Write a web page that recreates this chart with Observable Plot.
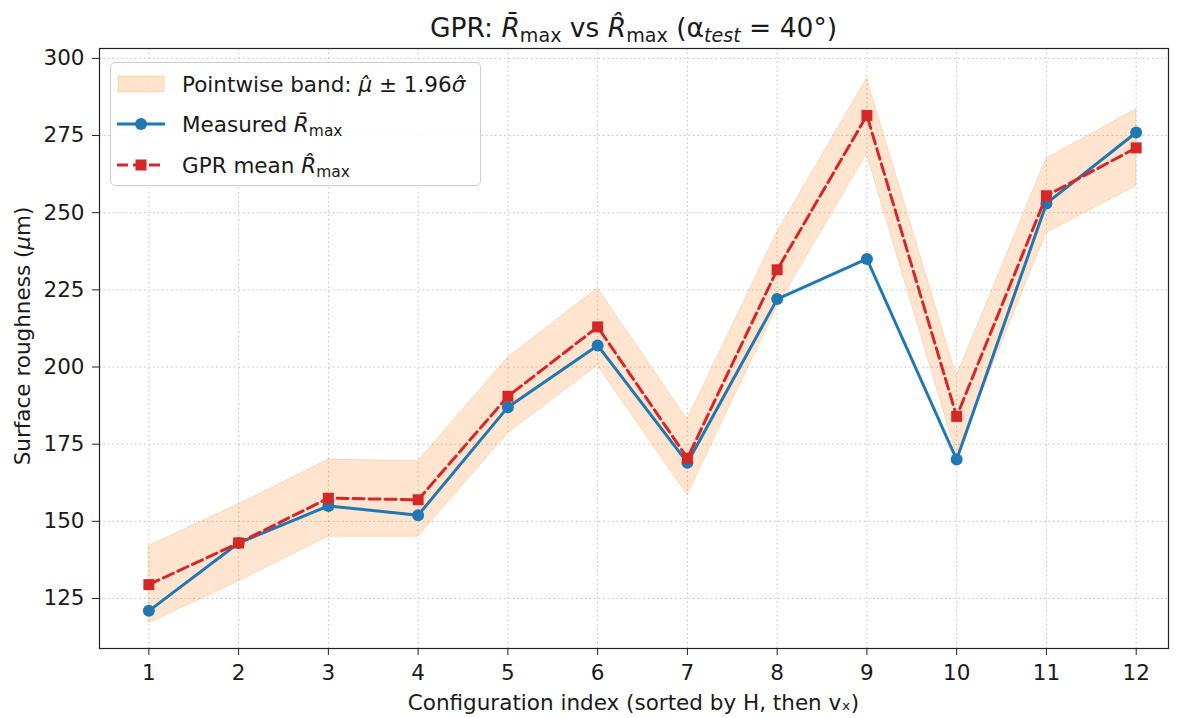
<!DOCTYPE html>
<html>
<head>
<meta charset="utf-8">
<script src="https://cdn.jsdelivr.net/npm/d3@7"></script>
<script src="https://cdn.jsdelivr.net/npm/@observablehq/plot@0.6"></script>
<style>
  html, body { margin: 0; padding: 0; background: #fff; }
  #wrap { position: relative; width: 1184px; height: 718px; font-family: "DejaVu Sans", sans-serif; color: #1a1a1a; }
  #title { position: absolute; top: 13px; left: 99px; width: 1069px; text-align: center; font-size: 26.5px; line-height: 30px; white-space: nowrap; }
  #xlabel { position: absolute; top: 690px; left: 99px; width: 1069px; text-align: center; font-size: 21.5px; line-height: 26px; white-space: nowrap; }
  #ylabel { position: absolute; left: 22px; top: 336px; transform: translate(-50%, -50%) rotate(-90deg); white-space: nowrap; font-size: 21.5px; }
  #legend { position: absolute; left: 110px; top: 62px; width: 371px; height: 124px; box-sizing: border-box;
            border: 1px solid #d0d0d0; border-radius: 5px; background: rgba(255,255,255,0.85); }
  .row { position: absolute; left: 0; height: 30px; display: flex; align-items: center; font-size: 21.5px; white-space: nowrap; }
  .row svg { margin-left: 6px; margin-right: 17px; flex: none; }
  sub { font-size: 0.72em; vertical-align: -0.25em; line-height: 0; }
  svg { display: block; }
</style>
</head>
<body>
<div id="wrap">
  <div id="chart"></div>
  <div id="title">GPR: <i>R̄</i><sub>max</sub> vs <i>R̂</i><sub>max</sub> (α<sub><i>test</i></sub> = 40°)</div>
  <div id="xlabel">Configuration index (sorted by H, then vₓ)</div>
  <div id="ylabel">Surface roughness (<i>μ</i>m)</div>
  <div id="legend">
    <div class="row" style="top:6px"><svg width="48" height="18"><rect x="1" y="1" width="46" height="16" fill="#ff7f0e" fill-opacity="0.22" stroke="#ff7f0e" stroke-opacity="0.25"/></svg><span>Pointwise band: <i>μ̂</i> ± 1.96<i>σ̂</i></span></div>
    <div class="row" style="top:46px"><svg width="48" height="16"><line x1="0" y1="8" x2="48" y2="8" stroke="#1f77b4" stroke-width="3"/><circle cx="24" cy="8" r="6" fill="#1f77b4"/></svg><span>Measured <i>R̄</i><sub>max</sub></span></div>
    <div class="row" style="top:87px"><svg width="48" height="16"><line x1="0" y1="8" x2="48" y2="8" stroke="#d62728" stroke-width="3" stroke-dasharray="11,5"/><rect x="18.5" y="2.5" width="11" height="11" fill="#d62728"/></svg><span>GPR mean <i>R̂</i><sub>max</sub></span></div>
  </div>
</div>
<script>
const configIndex = [1, 2, 3, 4, 5, 6, 7, 8, 9, 10, 11, 12];
const measured   = [121, 143, 155, 152, 187, 207, 169, 222, 235, 170, 253, 276];
const gprMean    = [129.5, 143, 157.5, 157, 190.5, 213, 170.5, 231.5, 281.5, 184, 255.5, 271];
const bandLower  = [117, 130.5, 145, 145, 178.5, 200.5, 158.5, 219.5, 269, 171.5, 243.5, 258.5];
const bandUpper  = [142, 155.5, 170, 169.5, 203, 225.5, 183, 243.5, 293.5, 197, 267.5, 283.5];
const xTicks = configIndex;
const yTicks = [125, 150, 175, 200, 225, 250, 275, 300];

const data = configIndex.map((x, i) => ({
  x, measured: measured[i], mean: gprMean[i], lo: bandLower[i], hi: bandUpper[i]
}));

const blue = "#1f77b4", red = "#d62728", orange = "#ff7f0e";

const chart = Plot.plot({
  width: 1184,
  height: 718,
  marginTop: 48,
  marginBottom: 70,
  marginLeft: 99,
  marginRight: 16,
  style: { fontFamily: "DejaVu Sans, sans-serif", fontSize: "21.5px", color: "#1a1a1a", background: "transparent" },
  x: { domain: [0.45, 12.36], label: null },
  y: { domain: [108.8, 303.2], label: null },
  marks: [
    Plot.gridX(xTicks, { stroke: "#b0b0b0", strokeOpacity: 0.8, strokeDasharray: "1.5,3", strokeWidth: 1 }),
    Plot.gridY(yTicks, { stroke: "#b0b0b0", strokeOpacity: 0.8, strokeDasharray: "1.5,3", strokeWidth: 1 }),
    Plot.areaY(data, { x: "x", y1: "lo", y2: "hi", fill: orange, fillOpacity: 0.2, stroke: orange, strokeOpacity: 0.22, strokeWidth: 1 }),
    Plot.line(data, { x: "x", y: "measured", stroke: blue, strokeWidth: 3 }),
    Plot.dot(data, { x: "x", y: "measured", r: 6, fill: blue, stroke: null }),
    Plot.line(data, { x: "x", y: "mean", stroke: red, strokeWidth: 3, strokeDasharray: "11,5" }),
    Plot.dot(data, { x: "x", y: "mean", symbol: "square", r: 6.2, fill: red, stroke: null }),
    Plot.frame({ stroke: "#222", strokeWidth: 1.2 }),
    Plot.axisX(xTicks, { tickSize: 7, tickPadding: 9, stroke: "#222", fontSize: 21.5, label: null }),
    Plot.axisY(yTicks, { tickSize: 7, tickPadding: 8, stroke: "#222", fontSize: 21.5, label: null })
  ]
});
document.getElementById("chart").appendChild(chart);
</script>
</body>
</html>
